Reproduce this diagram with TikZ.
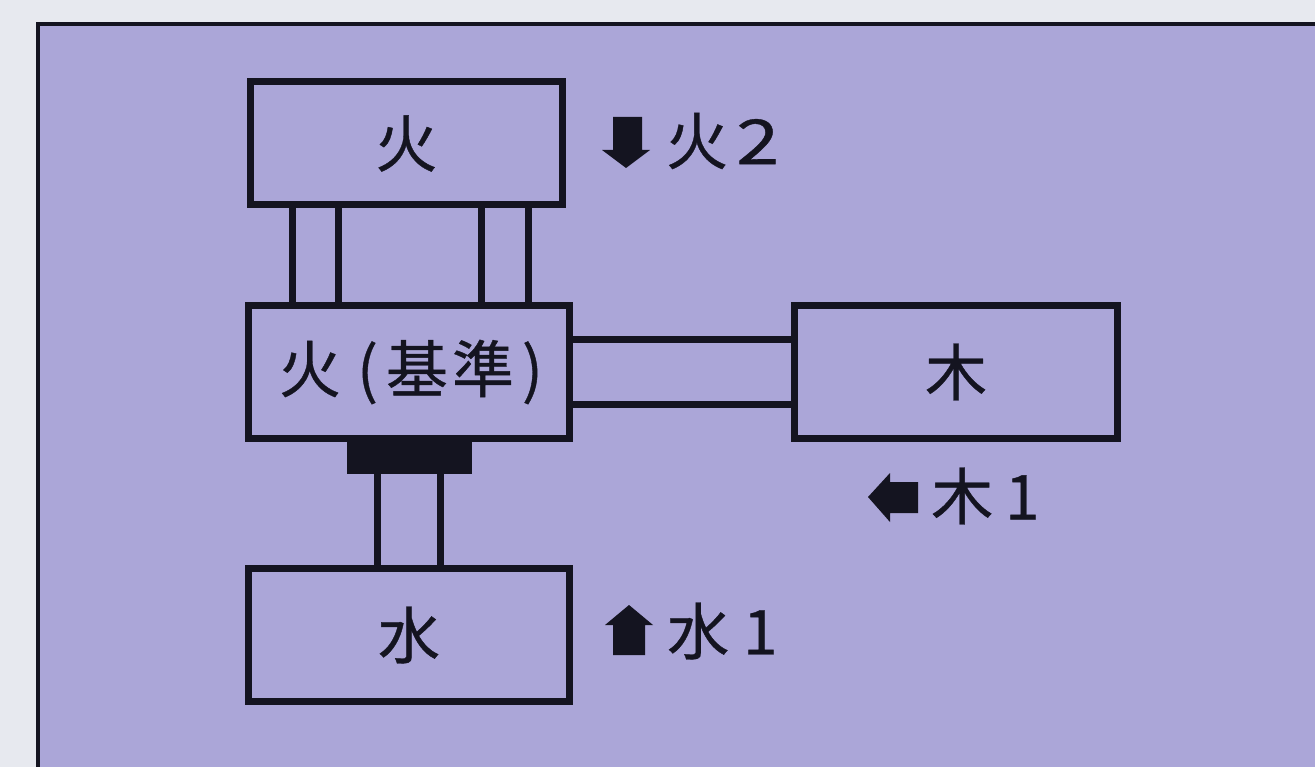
\documentclass[tikz,border=0pt]{standalone}
\usepackage{fontspec}
\newfontfamily\cjk[FakeBold=0.6]{Noto Sans CJK JP}
\definecolor{bggray}{HTML}{E7E9EF}
\definecolor{panelfill}{HTML}{ABA6D8}
\definecolor{ink}{HTML}{141420}
\tikzset{
  box/.style={draw=ink, line width=7pt, fill=panelfill, inner sep=0pt,
    font=\cjk\fontsize{62}{62}\selectfont, text=ink},
  link/.style={draw=ink, line width=7pt},
  lbl/.style={inner sep=0pt, anchor=west, font=\cjk\fontsize{62}{62}\selectfont, text=ink},
  blockarrow/.style={fill=ink, draw=none}
}
\begin{document}
\begin{tikzpicture}[x=1pt,y=-1pt]
\useasboundingbox (0,0) rectangle (1315,767);
\fill[bggray] (0,0) rectangle (1315,767);
\fill[panelfill] (38,24) rectangle (1315,767);
\draw[ink, line width=4pt] (38,767) -- (38,24) -- (1315,24);

% boxes
\node[box, minimum width=312pt, minimum height=123pt] (fire) at (406.5,143.5) {火};
\node[box, minimum width=321pt, minimum height=133pt] (base) at (409,372) {\hspace{4pt}火\hspace{16pt}(\hspace{8pt}基\hspace{4pt}準\hspace{8pt})};
\node[box, minimum width=323pt, minimum height=133pt] (wood) at (956,372) {木};
\node[box, minimum width=321pt, minimum height=133pt] (water) at (409,635) {水};
\node[fill=ink, draw=none, inner sep=0pt, minimum width=125pt, minimum height=31.5pt, anchor=north] (plug) at ([xshift=0.5pt]base.south) {};

% connectors fire - base
\foreach \dx in {-114.5,-68.5,74.5,121.5}
  \draw[link] ([xshift=\dx pt]fire.south) -- ([xshift=\dx pt]fire.south |- base.north);
% connectors base - wood
\foreach \dy in {-32,32}
  \draw[link] ([yshift=\dy pt]base.east) -- ([yshift=\dy pt]base.east -| wood.west);
% connectors plug - water
\foreach \dx in {-32,31}
  \draw[link] ([xshift=\dx pt]plug.south -| base.south) -- ([xshift=\dx pt]base.south |- water.north);

% labels with block arrows
\fill[blockarrow] (613,117) -- (642,117) -- (642,150) -- (650,150) -- (626,168) -- (602,150) -- (613,150) -- cycle;
\node[lbl] (lfire) at (666,141) {火\hspace{8pt}\scalebox{1.25}[1]{2}};

\fill[blockarrow] (868,497) -- (890,473) -- (890,482) -- (918,482) -- (918,513) -- (890,513) -- (890,522) -- cycle;
\node[lbl] (lwood) at (931,496) {木\hspace{12pt}1};

\fill[blockarrow] (629,605) -- (653,625) -- (645,625) -- (645,655) -- (613,655) -- (613,625) -- (605,625) -- cycle;
\node[lbl] (lwater) at (667,631) {水\hspace{14pt}1};
\end{tikzpicture}
\end{document}
